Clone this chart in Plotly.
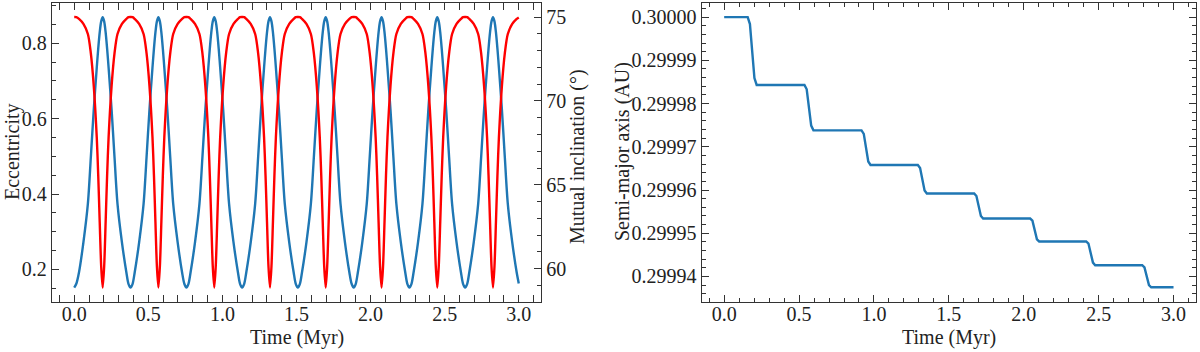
import plotly.graph_objects as go

# ---------------- data ----------------
# Left panel: Kozai-Lidov cycles (time in Myr)
time_myr = [
    0.000, 0.014,
    0.032, 0.062, 0.092, 0.112, 0.132, 0.152, 0.162, 0.172, 0.182, 0.192,
    0.202, 0.212, 0.222, 0.232, 0.252, 0.272, 0.292, 0.322, 0.352,
    0.366, 0.380, 0.394,
    0.408, 0.438, 0.468, 0.488, 0.508, 0.528, 0.538, 0.548, 0.558, 0.568,
    0.578, 0.588, 0.598, 0.608, 0.628, 0.648, 0.668, 0.698, 0.728,
    0.743, 0.757, 0.771,
    0.785, 0.815, 0.845, 0.865, 0.885, 0.905, 0.915, 0.925, 0.935, 0.945,
    0.955, 0.965, 0.975, 0.985, 1.005, 1.025, 1.045, 1.075, 1.105,
    1.119, 1.133, 1.147,
    1.161, 1.191, 1.221, 1.241, 1.261, 1.281, 1.291, 1.301, 1.311, 1.321,
    1.331, 1.341, 1.351, 1.361, 1.381, 1.401, 1.421, 1.451, 1.481,
    1.495, 1.509, 1.523,
    1.537, 1.567, 1.597, 1.617, 1.637, 1.657, 1.667, 1.677, 1.687, 1.697,
    1.707, 1.717, 1.727, 1.737, 1.757, 1.777, 1.797, 1.827, 1.857,
    1.872, 1.886, 1.900,
    1.914, 1.944, 1.974, 1.994, 2.014, 2.034, 2.044, 2.054, 2.064, 2.074,
    2.084, 2.094, 2.104, 2.114, 2.134, 2.154, 2.174, 2.204, 2.234,
    2.248, 2.262, 2.276,
    2.290, 2.320, 2.350, 2.370, 2.390, 2.410, 2.420, 2.430, 2.440, 2.450,
    2.460, 2.470, 2.480, 2.490, 2.510, 2.530, 2.550, 2.580, 2.610,
    2.624, 2.638, 2.652,
    2.666, 2.696, 2.726, 2.746, 2.766, 2.786, 2.796, 2.806, 2.816, 2.826,
    2.836, 2.846, 2.856, 2.866, 2.886, 2.906, 2.926, 2.956, 2.986,
    3.000,
]

eccentricity = [
    0.152, 0.162,
    0.192, 0.272, 0.374, 0.497, 0.625, 0.735, 0.786, 0.829, 0.858, 0.869,
    0.858, 0.829, 0.786, 0.735, 0.625, 0.497, 0.374, 0.272, 0.192,
    0.162, 0.152, 0.162,
    0.192, 0.272, 0.374, 0.497, 0.625, 0.735, 0.786, 0.829, 0.858, 0.869,
    0.858, 0.829, 0.786, 0.735, 0.625, 0.497, 0.374, 0.272, 0.192,
    0.162, 0.152, 0.162,
    0.192, 0.272, 0.374, 0.497, 0.625, 0.735, 0.786, 0.829, 0.858, 0.869,
    0.858, 0.829, 0.786, 0.735, 0.625, 0.497, 0.374, 0.272, 0.192,
    0.162, 0.152, 0.162,
    0.192, 0.272, 0.374, 0.497, 0.625, 0.735, 0.786, 0.829, 0.858, 0.869,
    0.858, 0.829, 0.786, 0.735, 0.625, 0.497, 0.374, 0.272, 0.192,
    0.162, 0.152, 0.162,
    0.192, 0.272, 0.374, 0.497, 0.625, 0.735, 0.786, 0.829, 0.858, 0.869,
    0.858, 0.829, 0.786, 0.735, 0.625, 0.497, 0.374, 0.272, 0.192,
    0.162, 0.152, 0.162,
    0.192, 0.272, 0.374, 0.497, 0.625, 0.735, 0.786, 0.829, 0.858, 0.869,
    0.858, 0.829, 0.786, 0.735, 0.625, 0.497, 0.374, 0.272, 0.192,
    0.162, 0.152, 0.162,
    0.192, 0.272, 0.374, 0.497, 0.625, 0.735, 0.786, 0.829, 0.858, 0.869,
    0.858, 0.829, 0.786, 0.735, 0.625, 0.497, 0.374, 0.272, 0.192,
    0.162, 0.152, 0.162,
    0.192, 0.272, 0.374, 0.497, 0.625, 0.735, 0.786, 0.829, 0.858, 0.869,
    0.858, 0.829, 0.786, 0.735, 0.625, 0.497, 0.374, 0.272, 0.192,
    0.163,
]

inclination_deg = [
    75.00, 74.99,
    74.89, 74.59, 73.99, 72.85, 70.87, 67.84, 65.56, 62.78, 60.13, 58.87,
    60.13, 62.78, 65.56, 67.84, 70.87, 72.85, 73.99, 74.59, 74.89,
    74.99, 75.00, 74.99,
    74.89, 74.59, 73.99, 72.85, 70.87, 67.84, 65.56, 62.78, 60.13, 58.87,
    60.13, 62.78, 65.56, 67.84, 70.87, 72.85, 73.99, 74.59, 74.89,
    74.99, 75.00, 74.99,
    74.89, 74.59, 73.99, 72.85, 70.87, 67.84, 65.56, 62.78, 60.13, 58.87,
    60.13, 62.78, 65.56, 67.84, 70.87, 72.85, 73.99, 74.59, 74.89,
    74.99, 75.00, 74.99,
    74.89, 74.59, 73.99, 72.85, 70.87, 67.84, 65.56, 62.78, 60.13, 58.87,
    60.13, 62.78, 65.56, 67.84, 70.87, 72.85, 73.99, 74.59, 74.89,
    74.99, 75.00, 74.99,
    74.89, 74.59, 73.99, 72.85, 70.87, 67.84, 65.56, 62.78, 60.13, 58.87,
    60.13, 62.78, 65.56, 67.84, 70.87, 72.85, 73.99, 74.59, 74.89,
    74.99, 75.00, 74.99,
    74.89, 74.59, 73.99, 72.85, 70.87, 67.84, 65.56, 62.78, 60.13, 58.87,
    60.13, 62.78, 65.56, 67.84, 70.87, 72.85, 73.99, 74.59, 74.89,
    74.99, 75.00, 74.99,
    74.89, 74.59, 73.99, 72.85, 70.87, 67.84, 65.56, 62.78, 60.13, 58.87,
    60.13, 62.78, 65.56, 67.84, 70.87, 72.85, 73.99, 74.59, 74.89,
    74.99, 75.00, 74.99,
    74.89, 74.59, 73.99, 72.85, 70.87, 67.84, 65.56, 62.78, 60.13, 58.87,
    60.13, 62.78, 65.56, 67.84, 70.87, 72.85, 73.99, 74.59, 74.89,
    74.98,
]

# Right panel: semi-major axis decay (step at every eccentricity maximum)
a_time_myr = [
    0.000,
    0.157, 0.172, 0.182, 0.192, 0.202, 0.217,
    0.536, 0.551, 0.561, 0.571, 0.581, 0.596,
    0.917, 0.932, 0.942, 0.952, 0.962, 0.977,
    1.293, 1.308, 1.318, 1.328, 1.338, 1.353,
    1.669, 1.684, 1.694, 1.704, 1.714, 1.729,
    2.043, 2.058, 2.068, 2.078, 2.088, 2.103,
    2.417, 2.432, 2.442, 2.452, 2.462, 2.477,
    2.791, 2.806, 2.816, 2.826, 2.836, 2.851,
    3.000,
]
semi_major_au = [
    0.3000000,
    0.3000000, 0.2999984, 0.2999945, 0.2999898, 0.2999859, 0.2999843,
    0.2999843, 0.2999833, 0.2999806, 0.2999775, 0.2999749, 0.2999738,
    0.2999738, 0.2999730, 0.2999710, 0.2999686, 0.2999666, 0.2999658,
    0.2999658, 0.2999651, 0.2999635, 0.2999615, 0.2999599, 0.2999592,
    0.2999592, 0.2999586, 0.2999572, 0.2999554, 0.2999540, 0.2999534,
    0.2999534, 0.2999529, 0.2999515, 0.2999500, 0.2999486, 0.2999481,
    0.2999481, 0.2999476, 0.2999462, 0.2999445, 0.2999432, 0.2999426,
    0.2999426, 0.2999421, 0.2999408, 0.2999394, 0.2999380, 0.2999375,
    0.2999375,
]

# ---------------- styling / layout ----------------
W, H = 1200, 352
FONT = "Liberation Serif, Times New Roman, serif"
AXC = "#333333"
TXT = "#222222"
BLUE = "#1f77b4"
RED = "#ff0000"

y_dom = [1 - 301.5 / H, 1 - 3.3 / H]


def axis_common():
    return dict(
        showgrid=False, zeroline=False, showline=True, linecolor=AXC,
        linewidth=1.2, ticks="inside", ticklen=7, tickwidth=1,
        tickcolor=AXC, automargin=False, tickmode="linear",
        tickfont=dict(family=FONT, size=20, color=TXT),
    )


def minor(t0, dt):
    return dict(tick0=t0, dtick=dt, ticks="inside", ticklen=4, tickwidth=1,
                tickcolor=AXC)


fig = go.Figure()
fig.add_trace(go.Scatter(
    x=time_myr, y=eccentricity, mode="lines", xaxis="x", yaxis="y",
    line=dict(color=BLUE, width=2.4, shape="spline", smoothing=0.8),
    showlegend=False, name="Eccentricity", hoverinfo="skip"))
fig.add_trace(go.Scatter(
    x=time_myr, y=inclination_deg, mode="lines", xaxis="x", yaxis="y2",
    line=dict(color=RED, width=2.4, shape="spline", smoothing=0.8),
    showlegend=False, name="Mutual inclination", hoverinfo="skip"))
fig.add_trace(go.Scatter(
    x=a_time_myr, y=semi_major_au, mode="lines", xaxis="x2", yaxis="y3",
    line=dict(color=BLUE, width=2.4),
    showlegend=False, name="Semi-major axis", hoverinfo="skip"))

xa = axis_common()
xa.update(domain=[52 / W, 541 / W], anchor="y", range=[-0.15, 3.15],
          tick0=0, dtick=0.5, tickformat=".1f", ticklabelstandoff=-6,
          mirror="allticks", minor=minor(0, 0.1))
ya = axis_common()
ya.update(domain=y_dom, anchor="x", range=[0.115, 0.906],
          tick0=0, dtick=0.2, tickformat=".1f",
          mirror=False, minor=minor(0, 0.05))
ya2 = axis_common()
ya2.update(overlaying="y", side="right", anchor="x", range=[58.04, 75.82],
           tick0=0, dtick=5, mirror=False, minor=minor(0, 1))
xa2 = axis_common()
xa2.update(domain=[701.7 / W, 1196 / W], anchor="y3", range=[-0.15, 3.15],
           tick0=0, dtick=0.5, tickformat=".1f", ticklabelstandoff=-6,
           mirror="allticks", minor=minor(0, 0.1))
ya3 = axis_common()
ya3.update(domain=y_dom, anchor="x2", range=[0.2999342, 0.3000032],
           tick0=0.3, dtick=0.00001, tickformat=".5f",
           mirror="allticks", minor=minor(0.3, 0.000002))


def ann(text, xpx, ypx, angle=0):
    return dict(text=text, x=xpx / W, y=1 - ypx / H, xref="paper",
                yref="paper", xanchor="center", yanchor="middle",
                showarrow=False, textangle=angle,
                font=dict(family=FONT, size=20, color=TXT))


fig.update_layout(
    width=W, height=H,
    margin=dict(l=0, r=0, t=0, b=0, autoexpand=False),
    paper_bgcolor="white", plot_bgcolor="white",
    xaxis=xa, yaxis=ya, yaxis2=ya2, xaxis2=xa2, yaxis3=ya3,
    showlegend=False, hovermode=False,
    annotations=[
        ann("Time (Myr)", 296.5, 337),
        ann("Time (Myr)", 949, 337),
        ann("Eccentricity", 12, 152, -90),
        ann("Mutual inclination (°)", 577, 157, -90),
        ann("Semi-major axis (AU)", 622, 152, -90),
    ],
)

fig.write_html("out.html",
               config={"displayModeBar": False, "staticPlot": True},
               post_script="document.body.style.margin='0px';")
